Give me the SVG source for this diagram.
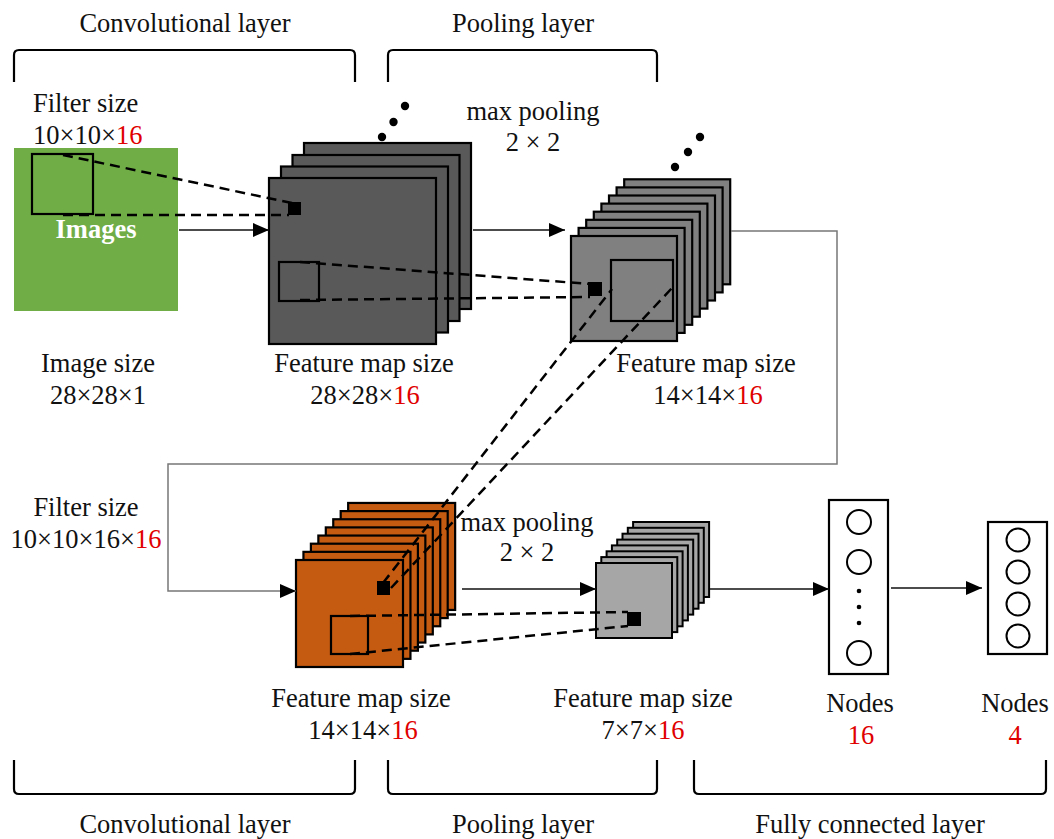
<svg xmlns="http://www.w3.org/2000/svg" width="1054" height="839" viewBox="0 0 1054 839">
<style>
text{font-family:"Liberation Serif","Times New Roman",serif;font-size:26.5px;fill:#111}
.c{text-anchor:middle}
.r{fill:#e00000}
.s1{fill:#595959;stroke:#000;stroke-width:2.2}
.s2{fill:#808080;stroke:#000;stroke-width:2.2}
.s3{fill:#C55A11;stroke:#000;stroke-width:2.2}
.s4{fill:#A6A6A6;stroke:#000;stroke-width:2}
.box{fill:none;stroke:#000;stroke-width:2.2}
.blk{fill:#000}
.br{fill:none;stroke:#000;stroke-width:2.2}
.dash{fill:none;stroke:#000;stroke-width:2.5;stroke-dasharray:10 6}
.arr{fill:none;stroke:#111;stroke-width:1.5;marker-end:url(#ah)}
.route{fill:none;stroke:#777;stroke-width:1.5;marker-end:url(#ah)}
.node{fill:#fff;stroke:#000;stroke-width:2.2}
.cir{fill:none;stroke:#000;stroke-width:2}
</style>
<defs>
<marker id="ah" markerUnits="userSpaceOnUse" markerWidth="16" markerHeight="14" refX="16" refY="7" orient="auto">
<path d="M0,0 L16,7 L0,14 z" fill="#000"/>
</marker>
</defs>

<g id="brackets">
<path class="br" d="M14,82 V55 Q14,50 19,50 H350 Q355,50 355,55 V82"/>
<path class="br" d="M388,82 V55 Q388,50 393,50 H652 Q657,50 657,55 V82"/>
<path class="br" d="M14,760 V789 Q14,794 19,794 H350 Q355,794 355,789 V760"/>
<path class="br" d="M388,760 V789 Q388,794 393,794 H652 Q657,794 657,789 V760"/>
<path class="br" d="M694,760 V789 Q694,794 699,794 H1041 Q1046,794 1046,789 V760"/>
<text class="c" x="185" y="32">Convolutional layer</text>
<text class="c" x="523" y="32">Pooling layer</text>
<text class="c" x="185" y="833">Convolutional layer</text>
<text class="c" x="523" y="833">Pooling layer</text>
<text class="c" x="870" y="833">Fully connected layer</text>
</g>

<g id="input">
<rect x="14" y="148" width="164" height="163" fill="#70AD47"/>
<rect class="box" x="32" y="154" width="61" height="60"/>
<text x="96" y="238" class="c" style="font-weight:bold;fill:#fff">Images</text>
<text x="33" y="112">Filter size</text>
<text x="33" y="144">10×10×<tspan class="r">16</tspan></text>
<text class="c" x="98" y="372">Image size</text>
<text class="c" x="98" y="404">28×28×1</text>
</g>

<g id="conv1">
<rect class="s1" x="304" y="143" width="167" height="166"/>
<rect class="s1" x="292.5" y="155" width="167" height="166"/>
<rect class="s1" x="281" y="166.5" width="167" height="166"/>
<rect class="s1" x="269" y="178" width="167" height="166"/>
<rect class="blk" x="288" y="202" width="13" height="13"/>
<rect class="box" x="279" y="262" width="40" height="39"/>
<circle cx="382" cy="137" r="4.2"/>
<circle cx="393.5" cy="122" r="4.2"/>
<circle cx="405" cy="106" r="4.2"/>
<text class="c" x="364" y="372">Feature map size</text>
<text class="c" x="365" y="404">28×28×<tspan class="r">16</tspan></text>
</g>

<g id="pool1">
<rect class="s2" x="624.2" y="179.3" width="106" height="105"/>
<rect class="s2" x="616.6" y="187.4" width="106" height="105"/>
<rect class="s2" x="609" y="195.5" width="106" height="105"/>
<rect class="s2" x="601.4" y="203.6" width="106" height="105"/>
<rect class="s2" x="593.8" y="211.7" width="106" height="105"/>
<rect class="s2" x="586.2" y="219.8" width="106" height="105"/>
<rect class="s2" x="578.6" y="227.9" width="106" height="105"/>
<rect class="s2" x="571" y="236" width="106" height="105"/>
<rect class="box" x="611" y="260" width="62" height="61"/>
<rect class="blk" x="588" y="282" width="14" height="14"/>
<circle cx="675" cy="167" r="4.2"/>
<circle cx="688" cy="152" r="4.2"/>
<circle cx="700" cy="137" r="4.2"/>
<text class="c" x="533" y="120">max pooling</text>
<text class="c" x="533" y="151">2 × 2</text>
<text class="c" x="706" y="372">Feature map size</text>
<text class="c" x="708" y="404">14×14×<tspan class="r">16</tspan></text>
</g>

<g id="conv2">
<rect class="s3" x="348.15" y="502.95" width="107" height="107"/>
<rect class="s3" x="340.7" y="511.1" width="107" height="107"/>
<rect class="s3" x="333.25" y="519.25" width="107" height="107"/>
<rect class="s3" x="325.8" y="527.4" width="107" height="107"/>
<rect class="s3" x="318.35" y="535.55" width="107" height="107"/>
<rect class="s3" x="310.9" y="543.7" width="107" height="107"/>
<rect class="s3" x="303.45" y="551.85" width="107" height="107"/>
<rect class="s3" x="296" y="560" width="107" height="107"/>
<rect class="blk" x="377" y="581" width="13" height="14"/>
<rect class="box" x="331" y="616" width="37" height="38"/>
<text class="c" x="86" y="516">Filter size</text>
<text class="c" x="86" y="548">10×10×16×<tspan class="r">16</tspan></text>
<text class="c" x="361" y="707">Feature map size</text>
<text class="c" x="363" y="739">14×14×<tspan class="r">16</tspan></text>
</g>

<g id="pool2">
<rect class="s4" x="633.1" y="522" width="76" height="75"/>
<rect class="s4" x="627.8" y="527.8" width="76" height="75"/>
<rect class="s4" x="622.5" y="533.7" width="76" height="75"/>
<rect class="s4" x="617.2" y="539.6" width="76" height="75"/>
<rect class="s4" x="611.9" y="545.4" width="76" height="75"/>
<rect class="s4" x="606.6" y="551.3" width="76" height="75"/>
<rect class="s4" x="601.3" y="557.1" width="76" height="75"/>
<rect class="s4" x="596" y="563" width="76" height="75"/>
<rect class="blk" x="627" y="612" width="14" height="14"/>
<text class="c" x="527" y="531">max pooling</text>
<text class="c" x="527" y="561">2 × 2</text>
<text class="c" x="643" y="707">Feature map size</text>
<text class="c" x="643" y="739">7×7×<tspan class="r">16</tspan></text>
</g>

<g id="fc1">
<rect class="node" x="829" y="500" width="59" height="174"/>
<circle class="cir" cx="859" cy="522" r="12"/>
<circle class="cir" cx="859" cy="562" r="12"/>
<circle class="blk" cx="859" cy="591" r="2.3"/>
<circle class="blk" cx="859" cy="607" r="2.3"/>
<circle class="blk" cx="859" cy="623" r="2.3"/>
<circle class="cir" cx="859" cy="653" r="12"/>
<text class="c" x="860" y="712">Nodes</text>
<text class="c r" x="861" y="744">16</text>
</g>

<g id="fc2">
<rect class="node" x="988" y="522" width="59" height="132"/>
<circle class="cir" cx="1018" cy="540" r="11.5"/>
<circle class="cir" cx="1018" cy="572" r="11.5"/>
<circle class="cir" cx="1018" cy="604" r="11.5"/>
<circle class="cir" cx="1018" cy="636" r="11.5"/>
<text class="c" x="1015" y="712">Nodes</text>
<text class="c r" x="1015" y="744">4</text>
</g>

<g id="connectors">
<path class="arr" d="M179,230 H269"/>
<path class="arr" d="M473,230 H565"/>
<path class="route" d="M731,231 H837 V464 H168 V591 H296"/>
<path class="arr" d="M462,589 H596"/>
<path class="arr" d="M710,589 H829"/>
<path class="arr" d="M891,588 H982"/>
<path class="dash" d="M63,155 L292,203"/>
<path class="dash" d="M63,215 L289,215"/>
<path class="dash" d="M300,262 L590,284"/>
<path class="dash" d="M300,300 L590,297"/>
<path class="dash" d="M383,583 L612,289"/>
<path class="dash" d="M391,588 L672,288"/>
<path class="dash" d="M350,616 L628,612"/>
<path class="dash" d="M350,654 L628,626"/>
</g>
</svg>
